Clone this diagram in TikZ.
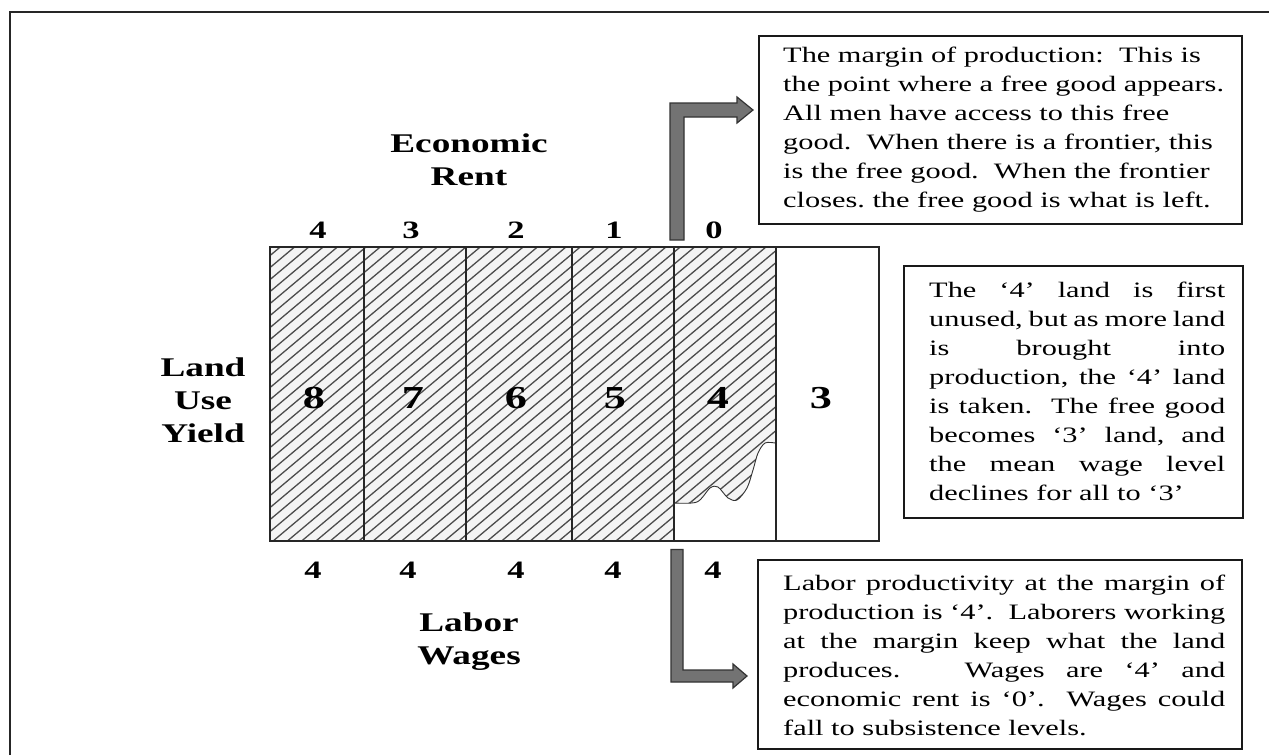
\documentclass[tikz,border=0pt]{standalone}
\usepackage{fontspec}
\setmainfont[FakeStretch=1.38]{Liberation Serif}
\usetikzlibrary{calc}
\frenchspacing
\newcommand\jline[2]{\makebox[#1pt][s]{#2}}
\begin{document}
\begin{tikzpicture}[x=1pt,y=-1pt]
\tikzset{
  cellnum/.style={font=\fontsize{32}{32}\selectfont\bfseries, anchor=base, inner sep=0},
  edgenum/.style={font=\fontsize{25}{25}\selectfont\bfseries, anchor=base, inner sep=0},
  axislabel/.style={font=\fontsize{27}{33}\selectfont\bfseries, align=center, inner sep=0},
  box/.style={draw=black!90, line width=1.6, fill=white, anchor=north west, inner sep=0},
  boxtext/.style={font=\fontsize{22}{29}\selectfont, align=left, inner sep=0, anchor=north west},
  hatchline/.style={draw=black!70, line width=1.3},
  blockarrow/.style={fill=black!55, draw=black!80, line width=1.2, line join=miter},
  gridline/.style={draw=black!85, line width=1.5},
  waveline/.style={draw=black!80, line width=0.9}
}
\useasboundingbox (0,0) rectangle (1269,755);
\fill[white] (0,0) rectangle (1269,755);
% outer frame
\draw[line width=2.2, black!85] (10,755) -- (10,12) -- (1269,12);

% hatching
\begin{scope}
\clip (269,246) -- (775,246) -- (775,443) -- plot[smooth] coordinates {(775,443) (765,443) (758,453) (753,470) (747,488) (737,500) (728,498) (718,487) (710,488) (697,502) (674,503)} -- (674,540) -- (269,540) -- cycle;
\fill[gray!9] (260,240) rectangle (790,545);
\foreach \c in {240,252,...,1000} \draw[hatchline] (260,\c) -- (790,\c-445.2);
\end{scope}
\draw[waveline] plot[smooth] coordinates {(775,443) (765,443) (758,453) (753,470) (747,488) (737,500) (728,498) (718,487) (710,488) (697,502) (674,503)};

% field
\node[draw=black!85, line width=1.5, minimum width=609, minimum height=294, anchor=north west, inner sep=0] (field) at (269,246) {};
\foreach \x in {364,466,572,674,776} \draw[gridline] (\x,246) -- (\x,540);

% cell numbers
\node[cellnum] (y8) at (314,408) {8};
\node[cellnum] (y7) at (413,408) {7};
\node[cellnum] (y6) at (516,408) {6};
\node[cellnum] (y5) at (615,408) {5};
\node[cellnum] (y4) at (718,408) {4};
\node[cellnum] (y3) at (821,408) {3};

% rent numbers
\node[edgenum] (r4) at (318,238) {4};
\node[edgenum] (r3) at (411,238) {3};
\node[edgenum] (r2) at (516,238) {2};
\node[edgenum] (r1) at (614,238) {1};
\node[edgenum] (r0) at (714,238) {0};
% wage numbers
\node[edgenum] (w1) at (313,578) {4};
\node[edgenum] (w2) at (408,578) {4};
\node[edgenum] (w3) at (516,578) {4};
\node[edgenum] (w4) at (613,578) {4};
\node[edgenum] (w5) at (713,578) {4};

% axis labels
\node[axislabel] (rent) at (469,160) {Economic\\Rent};
\node[axislabel] (land) at (203,400) {Land\\Use\\Yield};
\node[axislabel] (labor) at (469,642) {Labor\\Wages};

% boxes
\node[box, minimum width=483, minimum height=188] (tbox) at (758,35) {};
\node[boxtext] (ttxt) at (783,47) {The margin of production:\ \ This is\\
the point where a free good appears.\\
All men have access to this free\\
good.\ \ When there is a frontier, this\\
is the free good.\ \ When the frontier\\
closes. the free good is what is left.};

\node[box, minimum width=339, minimum height=252] (mbox) at (903,265) {};
\node[boxtext] (mtxt) at (929,282) {\jline{296}{The ‘4’ land is first}\\
\jline{296}{unused, but as more land}\\
\jline{296}{is brought into}\\
\jline{296}{production, the ‘4’ land}\\
\jline{296}{is taken.\ \ The free good}\\
\jline{296}{becomes ‘3’ land, and}\\
\jline{296}{the mean wage level}\\
declines for all to ‘3’};

\node[box, minimum width=484, minimum height=189] (lbox) at (757,559) {};
\node[boxtext] (ltxt) at (783,575) {\jline{442}{Labor productivity at the margin of}\\
\jline{442}{production is ‘4’.\ \ Laborers working}\\
\jline{442}{at the margin keep what the land}\\
\jline{442}{produces.\ \ \ Wages are ‘4’ and}\\
\jline{442}{economic rent is ‘0’.\ \ Wages could}\\
fall to subsistence levels.};

% block arrows
\coordinate (a1s) at ($(field.north west)+(408,-6)$);
\coordinate (a1c) at (a1s |- 0,110);
\coordinate (a1e) at ($(tbox.west |- a1c)+(-5,0)$);
\draw[blockarrow] ($(a1s)+(-7,0)$) -- ($(a1c)+(-7,-7)$) -- ($(a1e)+(-16,-7)$) -- ($(a1e)+(-16,-13)$) -- (a1e) -- ($(a1e)+(-16,13)$) -- ($(a1e)+(-16,7)$) -- ($(a1c)+(7,7)$) -- ($(a1s)+(7,0)$) -- cycle;

\coordinate (a2s) at ($(field.south west)+(408,8)$);
\coordinate (a2c) at (a2s |- 0,676);
\coordinate (a2e) at ($(lbox.west |- a2c)+(-10,0)$);
\draw[blockarrow] ($(a2s)+(-6,0)$) -- ($(a2c)+(-6,6)$) -- ($(a2e)+(-14,6)$) -- ($(a2e)+(-14,12)$) -- (a2e) -- ($(a2e)+(-14,-12)$) -- ($(a2e)+(-14,-6)$) -- ($(a2c)+(6,-6)$) -- ($(a2s)+(6,0)$) -- cycle;
\end{tikzpicture}
\end{document}
